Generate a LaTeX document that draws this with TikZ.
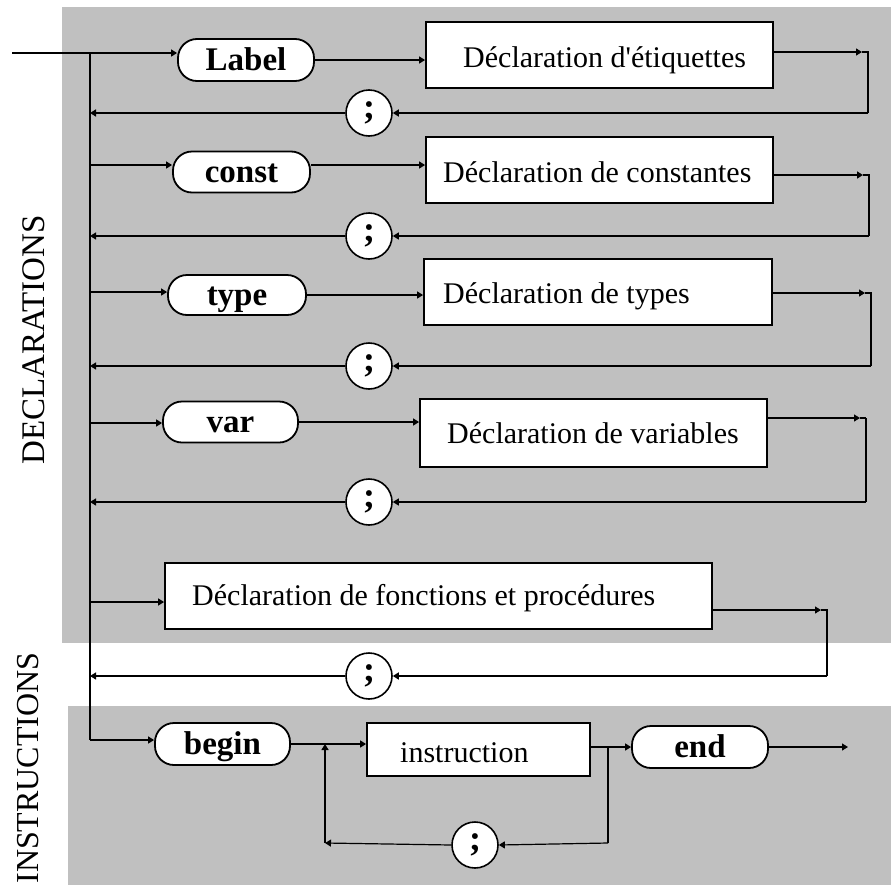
\documentclass[tikz,border=0pt]{standalone}
\usepackage{fontspec}
\setmainfont{Liberation Serif}
\usetikzlibrary{arrows.meta}
\definecolor{bggray}{HTML}{C0C0C0}
\begin{document}
\begin{tikzpicture}[x=1pt,y=-1pt,
  ln/.style={line width=1.2pt},
  bln/.style={line width=2.4pt},
  arr/.style={-{Triangle[length=6pt,width=7pt]}},
  pill/.style={draw, line width=1.8pt, fill=white, rounded corners=19pt,
    minimum width=136pt, minimum height=42pt, inner sep=0pt,
    text height=21pt, text depth=0pt,
    font=\fontsize{33}{36}\selectfont\bfseries},
  declbox/.style={draw, line width=1.8pt, fill=white, inner sep=0pt},
  boxtext/.style={anchor=base west, inner sep=0pt, font=\fontsize{30}{34}\selectfont},
  semi/.style={circle, draw, line width=1.6pt, fill=white, minimum size=46pt,
    inner sep=0pt, font=\fontsize{36}{38}\selectfont\bfseries},
  side/.style={rotate=90, inner sep=0pt}]
\useasboundingbox (0,0) rectangle (891,889);
\fill[bggray] (62,7) rectangle (891,643);
\fill[bggray] (68,706) rectangle (891,885);

% side labels
\node[side, font=\fontsize{33}{36}\selectfont] (decl) at (34,340) {DECLARATIONS};
\node[side, font=\fontsize{32}{36}\selectfont] (instrlab) at (28,768) {INSTRUCTIONS};

% row 1
\node[pill] (lab) at (246,60) {Label};
\node[declbox, minimum width=347pt, minimum height=66pt] (b1) at (599.5,55) {};
\node[boxtext] (t1) at (463,67) {Déclaration d\textquotesingle étiquettes};
\node[semi] (s1) at (369,113) {;};
% row 2
\node[pill, minimum width=137pt, minimum height=41pt] (con) at (241.5,172) {const};
\node[declbox, minimum width=347pt, minimum height=66pt] (b2) at (599.5,170) {};
\node[boxtext] (t2) at (443,182) {Déclaration de constantes};
\node[semi] (s2) at (369,236) {;};
% row 3
\node[pill, minimum width=138pt, minimum height=40pt] (typ) at (237,295) {type};
\node[declbox, minimum width=348pt, minimum height=66pt] (b3) at (598,292) {};
\node[boxtext] (t3) at (443,303) {Déclaration de types};
\node[semi] (s3) at (369,366) {;};
% row 4
\node[pill, minimum width=135pt, minimum height=41pt] (var) at (230.5,422) {var};
\node[declbox, minimum width=347pt, minimum height=68pt] (b4) at (593.5,433) {};
\node[boxtext] (t4) at (447,443) {Déclaration de variables};
\node[semi] (s4) at (369,502) {;};
% row 5
\node[declbox, minimum width=547pt, minimum height=66pt] (b5) at (438.5,596) {};
\node[boxtext] (t5) at (192,605) {Déclaration de fonctions et procédures};
\node[semi] (s5) at (369,676) {;};
% instructions
\node[pill, minimum width=135pt] (beg) at (222.5,744) {begin};
\node[declbox, minimum width=223pt, minimum height=53pt] (ins) at (478.5,749.5) {};
\node[boxtext] (t6) at (400,762) {instruction};
\node[pill] (en) at (700,747) {end};
\node[semi] (s6) at (475,845) {;};

% coordinates
\coordinate (entry) at (12,53);
\coordinate (vtop) at (90,53);
\coordinate (vbot) at (90,740);
\coordinate (r2) at (90,165);
\coordinate (r3) at (90,292);
\coordinate (r4) at (90,423);
\coordinate (r5) at (90,602);
\coordinate (k1) at (868,52);
\coordinate (k2) at (869,175);
\coordinate (k3) at (871,293);
\coordinate (k4) at (866,418);
\coordinate (k5) at (827,610);
\coordinate (la) at (325,843);
\coordinate (lb) at (608,843);
\coordinate (exit) at (848,747);

% main spine
\draw[ln] (vtop) -- (vbot);
% row 1
\draw[ln,arr] (entry) -- (entry -| lab.west);
\draw[ln,arr] (lab.east) -- (lab.east -| b1.west);
\draw[ln,arr] (b1.east |- k1) -- ([xshift=-6pt]k1);
\draw[bln] ([xshift=-6pt]k1) -- (k1) -- (k1 |- s1);
\draw[bln,arr] (k1 |- s1) -- (s1.east);
\draw[bln,arr] (s1.west) -- (s1.west -| vtop);
% row 2
\draw[ln,arr] (r2) -- (r2 -| con.west);
\draw[ln,arr] (con.east |- r2) -- (r2 -| b2.west);
\draw[bln,arr] (b2.east |- k2) -- ([xshift=-6pt]k2);
\draw[ln] ([xshift=-6pt]k2) -- (k2) -- (k2 |- s2);
\draw[ln,arr] (k2 |- s2) -- (s2.east);
\draw[ln,arr] (s2.west) -- (s2.west -| vtop);
% row 3
\draw[ln,arr] (r3) -- (r3 -| typ.west);
\draw[ln,arr] (typ.east) -- (typ.east -| b3.west);
\draw[ln,arr] (b3.east |- k3) -- ([xshift=-6pt]k3);
\draw[ln] ([xshift=-6pt]k3) -- (k3) -- (k3 |- s3);
\draw[ln,arr] (k3 |- s3) -- (s3.east);
\draw[ln,arr] (s3.west) -- (s3.west -| vtop);
% row 4
\draw[bln,arr] (r4) -- (r4 -| var.west);
\draw[ln,arr] (var.east) -- (var.east -| b4.west);
\draw[ln,arr] (b4.east |- k4) -- ([xshift=-6pt]k4);
\draw[ln] ([xshift=-6pt]k4) -- (k4);
\draw[bln] (k4) -- (k4 |- s4);
\draw[ln,arr] (k4 |- s4) -- (s4.east);
\draw[ln,arr] (s4.west) -- (s4.west -| vtop);
% row 5
\draw[ln,arr] (r5) -- (r5 -| b5.west);
\draw[ln,arr] (b5.east |- k5) -- ([xshift=-6pt]k5);
\draw[bln] ([xshift=-6pt]k5) -- (k5) -- (k5 |- s5);
\draw[bln,arr] (k5 |- s5) -- (s5.east);
\draw[ln,arr] (s5.west) -- (s5.west -| vtop);
% instructions
\draw[ln,arr] (vbot) -- (vbot -| beg.west);
\draw[bln,arr] (beg.east) -- (beg.east -| ins.west);
\draw[bln,arr] (ins.east |- en.west) -- (en.west);
\draw[ln] (lb |- en.west) -- (lb);
\draw[ln,arr] (lb) -- (s6.east);
\draw[ln,arr] (s6.west) -- (la);
\draw[bln,arr] (la) -- (la |- beg.east);
\draw[ln,arr] (en.east) -- (exit);
\end{tikzpicture}
\end{document}
